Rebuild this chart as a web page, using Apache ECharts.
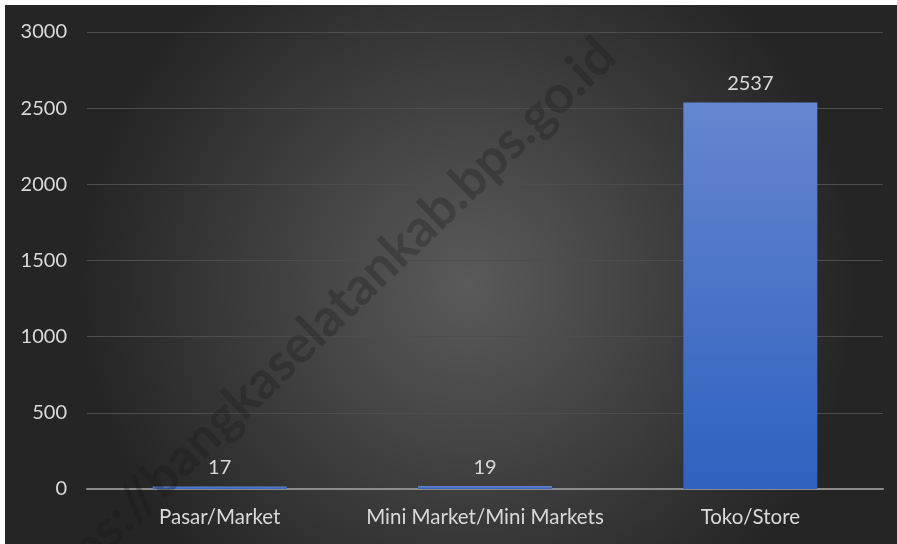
<!DOCTYPE html>
<html>
<head>
<meta charset="utf-8">
<script src="https://cdn.jsdelivr.net/npm/echarts@6/dist/echarts.min.js"></script>
<style>
  html, body { margin: 0; padding: 0; background: #ffffff; }
  #chart { position: absolute; left: 5px; top: 5px; width: 892px; height: 539px; }
</style>
</head>
<body>
<div id="chart"></div>
<script>
// Number of outlets by type
const categories = ['Pasar/Market', 'Mini Market/Mini Markets', 'Toko/Store'];
const outletCounts = [17, 19, 2537];
const yTicks = { min: 0, max: 3000, interval: 500 };
const watermark = 'https://bangkaselatankab.bps.go.id';

const FONT = 'Lato, "Open Sans", sans-serif';
const TEXT = '#d9d9d9';

const chart = echarts.init(document.getElementById('chart'), null, { renderer: 'canvas' });

chart.setOption({
  backgroundColor: new echarts.graphic.RadialGradient(0.52, 0.52, 0.72, [
    { offset: 0, color: '#5a5a5a' },
    { offset: 1, color: '#252525' }
  ]),
  animation: false,
  grid: { left: 82, right: 14, top: 27, bottom: 55, containLabel: false },
  xAxis: {
    type: 'category',
    data: categories,
    axisLine: { lineStyle: { color: '#8c8c8c', width: 2 } },
    axisTick: { show: false },
    axisLabel: { interval: 0, color: TEXT, fontFamily: FONT, fontSize: 20.5, margin: 18 }
  },
  yAxis: {
    type: 'value',
    min: yTicks.min,
    max: yTicks.max,
    interval: yTicks.interval,
    axisLine: { show: false },
    axisTick: { show: false },
    splitLine: { lineStyle: { color: '#4d4d4d', width: 1 } },
    axisLabel: {
      color: TEXT, fontFamily: FONT, fontSize: 20, margin: 20,
      formatter: v => String(v)
    }
  },
  series: [{
    type: 'bar',
    data: outletCounts,
    barWidth: '50.5%',
    itemStyle: {
      color: new echarts.graphic.LinearGradient(0, 0, 0, 1, [
        { offset: 0, color: '#6586d0' },
        { offset: 1, color: '#2f61bf' }
      ])
    },
    label: {
      show: true,
      position: 'top',
      distance: 9,
      color: TEXT,
      fontFamily: FONT,
      fontSize: 20
    }
  }],
  graphic: [{
    type: 'text',
    x: 584,
    y: 24,
    rotation: Math.PI * 44 / 180,
    z: 100,
    silent: true,
    style: {
      text: watermark,
      align: 'right',
      verticalAlign: 'top',
      fontFamily: FONT,
      fontWeight: 'bold',
      fontSize: 52,
      fill: 'rgba(20,20,20,0.28)'
    }
  }]
});
</script>
</body>
</html>
